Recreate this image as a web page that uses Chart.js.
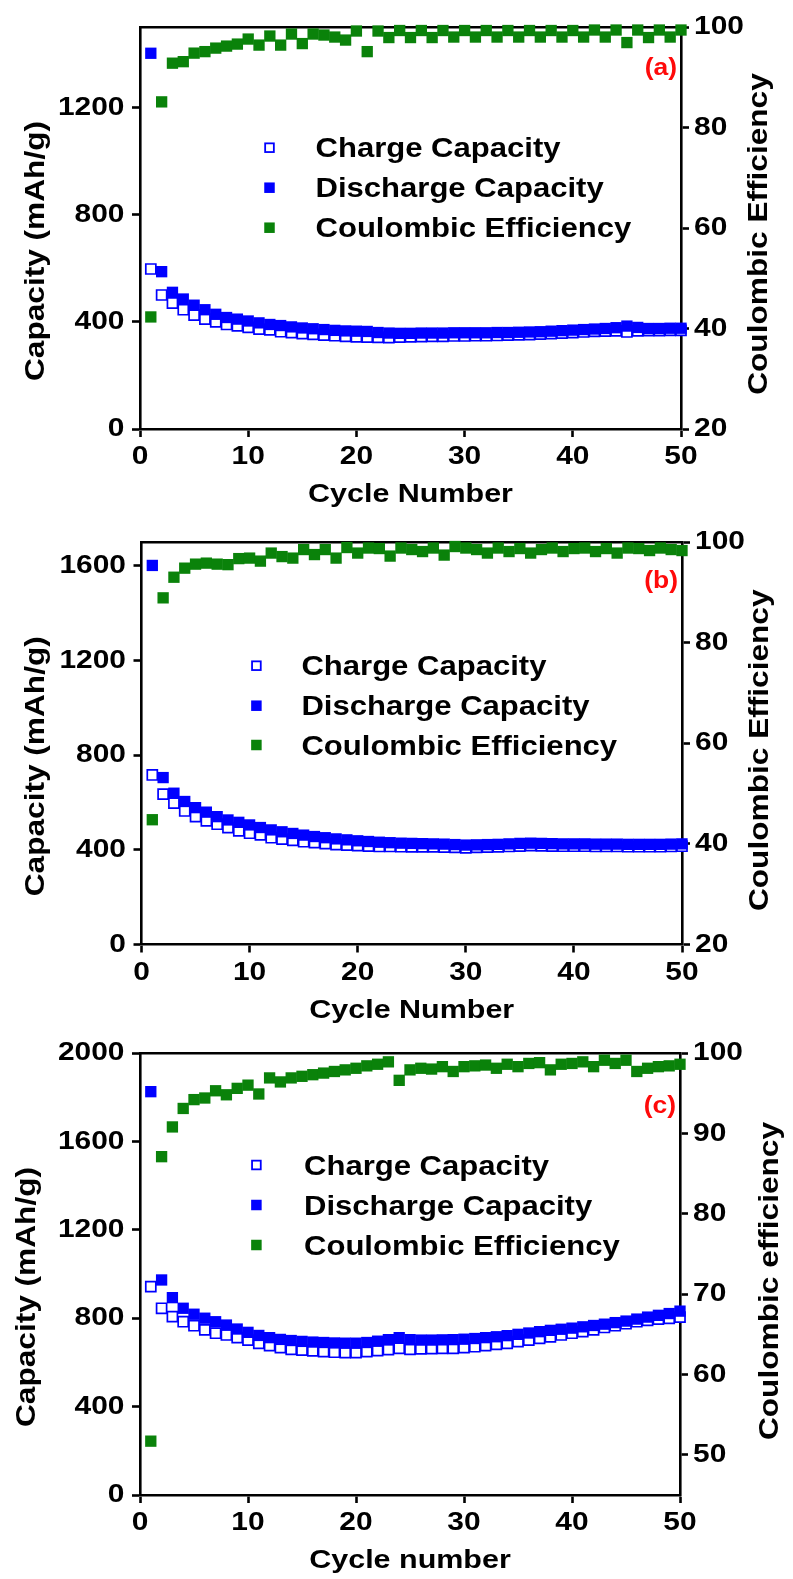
<!DOCTYPE html>
<html>
<head>
<meta charset="utf-8">
<script src="https://cdn.jsdelivr.net/npm/chart.js@4.4.1/dist/chart.umd.min.js"></script>
<style>
  html, body { margin: 0; padding: 0; background: #fff; }
  body { width: 793px; height: 1579px; position: relative; overflow: hidden; }
  canvas { position: absolute; left: 0; }
</style>
</head>
<body>
<canvas id="panelA" width="793" height="520" style="top:0px"></canvas>
<canvas id="panelB" width="793" height="530" style="top:520px"></canvas>
<canvas id="panelC" width="793" height="559" style="top:1020px"></canvas>
<script>
// ---- data -------------------------------------------------------------
const cycles = [1,2,3,4,5,6,7,8,9,10,11,12,13,14,15,16,17,18,19,20,21,22,23,24,25,
                26,27,28,29,30,31,32,33,34,35,36,37,38,39,40,41,42,43,44,45,46,47,48,49,50];

const seriesLabels = ['Charge Capacity', 'Discharge Capacity', 'Coulombic Efficiency'];

// panel (a)
const chargeA = [597,500,470,445,425,410,400,390,385,379,373,370,363,360,356,353,350,348,346,344,
                 343,342,341,343,344,345,346,346,347,347,348,348,349,350,351,352,354,356,358,360,
                 362,364,365,366,362,366,367,367,368,368];
const dischargeA = [1402,587,510,485,462,445,428,416,410,403,396,390,386,381,377,374,371,368,366,365,
                    364,360,358,357,357,358,358,358,359,359,359,359,360,360,361,362,363,365,367,369,
                    371,373,375,378,384,379,375,375,376,376];
const effA = [42.3,85.1,92.8,93.1,94.8,95.1,95.8,96.2,96.6,97.6,96.4,98.2,96.4,98.6,96.7,98.6,98.4,98.0,97.4,99.2,
              95.1,99.2,97.9,99.3,97.9,99.3,97.9,99.3,98.0,99.3,98.0,99.3,98.0,99.3,98.0,99.3,98.0,99.3,98.0,99.3,
              98.0,99.4,98.0,99.4,96.9,99.4,97.9,99.4,98.0,99.4];

// panel (b)
const chargeB = [716,635,597,564,540,522,508,494,480,470,463,451,445,440,434,430,426,422,420,418,
                 416,414,414,413,412,412,412,411,410,408,410,411,412,414,416,418,417,416,415,415,
                 415,414,414,414,413,413,413,413,414,415];
const dischargeB = [1601,705,639,604,578,559,540,526,516,505,494,484,476,469,462,456,451,446,442,438,
                    435,432,430,428,427,426,425,424,422,420,421,422,423,425,427,428,427,426,425,425,
                    425,424,424,424,423,423,423,423,424,425];
const effB = [44.8,88.9,93.0,94.8,95.6,95.8,95.6,95.5,96.7,96.8,96.2,97.8,97.1,96.8,98.5,97.5,98.5,96.8,98.9,97.8,
              98.8,98.7,97.2,98.8,98.5,98.1,98.8,97.4,99.1,98.8,98.5,97.8,98.8,98.1,98.7,97.8,98.5,98.8,98.1,98.7,
              98.8,98.1,98.7,97.8,98.8,98.7,98.3,98.8,98.5,98.3];

// panel (c)
const chargeC = [943,845,807,784,766,747,732,724,712,701,686,676,667,659,656,652,649,646,644,644,
                 649,653,658,664,659,661,662,664,664,667,671,676,682,686,694,701,709,716,724,732,
                 739,747,758,766,775,784,790,796,799,805];
const dischargeC = [1825,973,893,845,818,800,784,769,751,736,722,712,704,699,695,692,690,688,687,687,
                    690,696,703,712,703,701,701,702,703,705,708,712,716,721,727,733,739,745,750,755,
                    761,767,773,780,787,796,805,813,821,832];
const effC = [51.7,87.1,90.8,93.1,94.2,94.4,95.3,94.8,95.6,96.0,94.9,96.9,96.4,96.9,97.1,97.3,97.5,97.7,97.9,98.1,
              98.4,98.6,98.9,96.6,97.9,98.1,98.0,98.3,97.7,98.3,98.4,98.5,98.1,98.6,98.3,98.7,98.8,97.9,98.6,98.7,
              98.9,98.3,99.1,98.7,99.1,97.7,98.1,98.3,98.4,98.6];

// axis ticks
const xTicks = [0, 10, 20, 30, 40, 50];
const capTicksA = [0, 400, 800, 1200];
const capTicksB = [0, 400, 800, 1200, 1600];
const capTicksC = [0, 400, 800, 1200, 1600, 2000];
const effTicksAB = [20, 40, 60, 80, 100];
const effTicksC = [50, 60, 70, 80, 90, 100];

// ---- styling ----------------------------------------------------------
const BLUE = '#0000ff';
const GREEN = '#0a820a';
const RED = '#ff0a0a';
const FONT = '"Liberation Sans", Arial, Helvetica, sans-serif';
const STRETCH = 1.15;   // lettering is drawn a little wide, like the original typeface

function txt(ctx, str, x, y, o) {
  ctx.save();
  ctx.translate(x, y);
  if (o.rot) ctx.rotate(o.rot);
  ctx.scale(STRETCH, 1);
  ctx.font = 'bold ' + o.size + 'px ' + FONT;
  ctx.fillStyle = o.color || '#000';
  ctx.textAlign = o.align || 'left';
  ctx.textBaseline = o.base || 'alphabetic';
  ctx.fillText(str, 0, 0);
  ctx.restore();
}

// draws tick labels, axis titles, the legend and the panel tag
const panelText = {
  id: 'panelText',
  afterDraw(chart, _args, o) {
    const ctx = chart.ctx;
    const ca = chart.chartArea;
    const sx = chart.scales.x, sy = chart.scales.y, sy2 = chart.scales.y2;

    sy.ticks.forEach(t => txt(ctx, String(t.value), ca.left - 15.5, sy.getPixelForValue(t.value),
      { size: 26, align: 'right', base: 'middle' }));
    sy2.ticks.forEach(t => txt(ctx, String(t.value), ca.right + 13, sy2.getPixelForValue(t.value),
      { size: 26, align: 'left', base: 'middle' }));
    sx.ticks.forEach(t => txt(ctx, String(t.value), sx.getPixelForValue(t.value), ca.bottom + 28,
      { size: 26, align: 'center', base: 'middle' }));

    const midY = (ca.top + ca.bottom) / 2;
    txt(ctx, o.xTitle, (ca.left + ca.right) / 2, ca.bottom + 73, { size: 26.5, align: 'center' });
    txt(ctx, o.yTitle, o.yTitleX, midY + o.yTitleDy, { size: 27.5, align: 'center', rot: -Math.PI / 2 });
    txt(ctx, o.y2Title, o.y2TitleX, midY + o.y2TitleDy, { size: 27.5, align: 'center', rot: -Math.PI / 2 });

    // legend
    chart.data.datasets.forEach((ds, i) => {
      const cy = o.legendY[i];
      const s = 10.5;
      ctx.save();
      if (ds.borderWidth > 0) {
        ctx.fillStyle = '#fff';
        ctx.fillRect(o.legendMarkX - s / 2, cy - s / 2, s, s);
        ctx.strokeStyle = ds.borderColor;
        ctx.lineWidth = 1.8;
        ctx.strokeRect(o.legendMarkX - s / 2 + 0.9, cy - s / 2 + 0.9, s - 1.8, s - 1.8);
      } else {
        ctx.fillStyle = ds.backgroundColor;
        ctx.fillRect(o.legendMarkX - s / 2, cy - s / 2, s, s);
      }
      ctx.restore();
      txt(ctx, ds.label, o.legendTextX, cy + 9.7, { size: 27 });
    });

    txt(ctx, o.tag, ca.right - 4, ca.top + o.tagDy, { size: 23, align: 'right', color: RED });
  }
};

function pts(vals) { return cycles.map((c, i) => ({ x: c, y: vals[i] })); }

function makePanel(id, cfg) {
  const canvas = document.getElementById(id);
  const W = canvas.width, H = canvas.height;
  const p = cfg.plot;
  const axisBorder = { display: true, color: '#000', width: 2.6 };
  const tickGrid = { display: true, drawOnChartArea: false, drawTicks: true, tickLength: 8,
                     tickWidth: 2.6, tickColor: '#000' };
  const setTicks = arr => scale => { scale.ticks = arr.map(v => ({ value: v })); };

  return new Chart(canvas, {
    type: 'scatter',
    data: {
      datasets: [
        { label: seriesLabels[0], data: pts(cfg.charge), yAxisID: 'y', order: 2, clip: false,
          pointStyle: 'rect', pointRadius: 7.1, borderWidth: 1.7,
          borderColor: BLUE, backgroundColor: '#fff' },
        { label: seriesLabels[1], data: pts(cfg.discharge), yAxisID: 'y', order: 1, clip: false,
          pointStyle: 'rect', pointRadius: 8, borderWidth: 0,
          borderColor: BLUE, backgroundColor: BLUE },
        { label: seriesLabels[2], data: pts(cfg.eff), yAxisID: 'y2', order: 0, clip: false,
          pointStyle: 'rect', pointRadius: 8, borderWidth: 0,
          borderColor: GREEN, backgroundColor: GREEN }
      ]
    },
    options: {
      responsive: false,
      animation: false,
      devicePixelRatio: 1,
      layout: { padding: 0 },
      events: [],
      plugins: {
        legend: { display: false },
        tooltip: { enabled: false },
        panelText: cfg.text
      },
      scales: {
        x: { type: 'linear', position: 'bottom', min: 0, max: 50,
             afterBuildTicks: setTicks(xTicks),
             afterFit: s => { s.height = H - p.b; },
             ticks: { display: false }, grid: tickGrid, border: axisBorder },
        xTop: { type: 'linear', position: 'top', min: 0, max: 50,
                afterFit: s => { s.height = p.t; },
                ticks: { display: false }, grid: { display: false }, border: axisBorder },
        y: { type: 'linear', position: 'left', min: 0, max: cfg.capMax,
             afterBuildTicks: setTicks(cfg.capTicks),
             afterFit: s => { s.width = p.l; },
             ticks: { display: false }, grid: tickGrid, border: axisBorder },
        y2: { type: 'linear', position: 'right', min: cfg.effMin, max: 100,
              afterBuildTicks: setTicks(cfg.effTicks),
              afterFit: s => { s.width = W - p.r; },
              ticks: { display: false }, grid: tickGrid, border: axisBorder }
      }
    },
    plugins: [panelText]
  });
}

makePanel('panelA', {
  plot: { l: 140, t: 27, r: 681, b: 429 },
  charge: chargeA, discharge: dischargeA, eff: effA,
  capMax: 1500, capTicks: capTicksA, effMin: 20, effTicks: effTicksAB,
  text: { xTitle: 'Cycle Number', yTitle: 'Capacity (mAh/g)', y2Title: 'Coulombic Efficiency',
          yTitleX: 44, yTitleDy: 23, y2TitleX: 767, y2TitleDy: 6,
          legendMarkX: 269.5, legendTextX: 315.5, legendY: [147.7, 187.7, 227.7],
          tag: '(a)', tagDy: 48 }
});

makePanel('panelB', {
  plot: { l: 141.5, t: 22, r: 682, b: 424.5 },
  charge: chargeB, discharge: dischargeB, eff: effB,
  capMax: 1700, capTicks: capTicksB, effMin: 20, effTicks: effTicksAB,
  text: { xTitle: 'Cycle Number', yTitle: 'Capacity (mAh/g)', y2Title: 'Coulombic Efficiency',
          yTitleX: 44, yTitleDy: 23, y2TitleX: 768, y2TitleDy: 7,
          legendMarkX: 256.4, legendTextX: 301.4, legendY: [145.7, 185.7, 225],
          tag: '(b)', tagDy: 46 }
});

makePanel('panelC', {
  plot: { l: 140, t: 33, r: 680, b: 475 },
  charge: chargeC, discharge: dischargeC, eff: effC,
  capMax: 2000, capTicks: capTicksC, effMin: 45, effTicks: effTicksC,
  text: { xTitle: 'Cycle number', yTitle: 'Capacity (mAh/g)', y2Title: 'Coulombic efficiency',
          yTitleX: 35, yTitleDy: 23, y2TitleX: 778, y2TitleDy: 7,
          legendMarkX: 256.4, legendTextX: 304, legendY: [145, 185, 225],
          tag: '(c)', tagDy: 60 }
});
</script>
</body>
</html>
